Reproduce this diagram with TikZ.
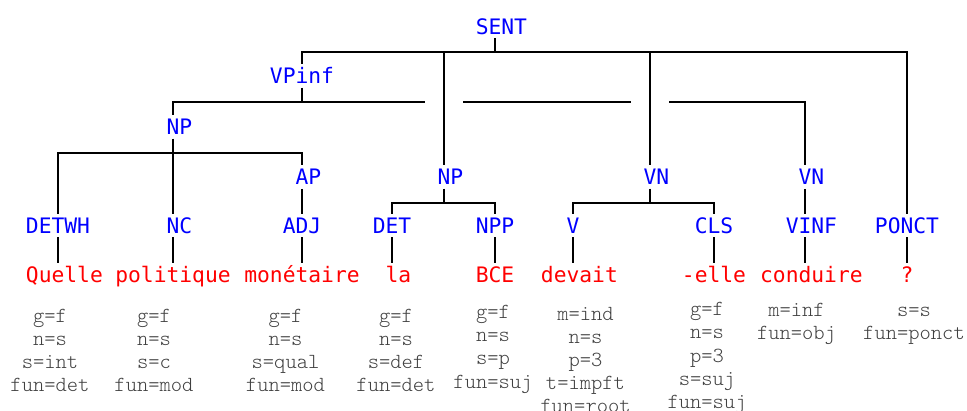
\documentclass[tikz,border=0pt]{standalone}
\usepackage{fontspec}
\newfontfamily\treefont{DejaVu Sans Mono}
\newfontfamily\featfont{Latin Modern Mono Light}

\begin{document}
\begin{tikzpicture}[x=1pt,y=-1pt,
    cat/.style={text=blue, font=\treefont\fontsize{21.3}{24}\selectfont,
      inner sep=4pt, text height=15.5pt, text depth=0pt},
    word/.style={cat, text=red},
    feat/.style={text=black!75, font=\featfont\fontsize{21.5}{23.2}\selectfont,
      text width=130pt, align=center, anchor=base, inner sep=0pt},
    edge/.style={line width=1.8pt},
    bridge/.style={edge, preaction={draw=white, line width=38pt}}]
    \useasboundingbox (0,0) rectangle (967,410);

    % categories
    \node[cat] (sent) at (495,26.3) {\phantom{S}SENT};
    \node[cat] (vpinf) at (302,75.8) {VPinf};
    \node[cat] (np1) at (173,127) {\phantom{N}NP};
    \node[cat] (ap) at (302,177) {\phantom{A}AP};
    \node[cat] (np2) at (444,177) {\phantom{N}NP};
    \node[cat] (vn1) at (650,177) {\phantom{V}VN};
    \node[cat] (vn2) at (805,177) {\phantom{V}VN};
    \node[cat] (detwh) at (58,225.5) {DETWH};
    \node[cat] (nc) at (173,225.5) {\phantom{N}NC};
    \node[cat] (adj) at (302,225.5) {ADJ};
    \node[cat] (det) at (392,225.5) {DET};
    \node[cat] (npp) at (495,225.5) {NPP};
    \node[cat] (v) at (573,225.5) {V};
    \node[cat] (cls) at (714,225.5) {CLS};
    \node[cat] (vinf) at (805,225.5) {\phantom{V}VINF};
    \node[cat] (ponct) at (907,225.5) {PONCT};

    % words
    \node[word] (quelle) at (58,275) {\phantom{Q}Quelle};
    \node[word] (politique) at (173,275) {politique};
    \node[word] (monetaire) at (302,275) {monétaire};
    \node[word] (la) at (392,275) {\phantom{l}la};
    \node[word] (bce) at (495,275) {BCE};
    \node[word] (devait) at (573,275) {\phantom{d}devait};
    \node[word] (elle) at (714,275) {-elle};
    \node[word] (conduire) at (805,275) {\phantom{c}conduire};
    \node[word] (qm) at (907,275) {?};

    % features
    \node[feat] (fquelle) at (50,322) {g=f\\n=s\\s=int\\fun=det};
    \node[feat] (fpolitique) at (154,322) {g=f\\n=s\\s=c\\fun=mod};
    \node[feat] (fmonetaire) at (285.5,322) {g=f\\n=s\\s=qual\\fun=mod};
    \node[feat] (fla) at (396,322) {g=f\\n=s\\s=def\\fun=det};
    \node[feat] (fbce) at (493,318.5) {g=f\\n=s\\s=p\\fun=suj};
    \node[feat] (fdevait) at (585.5,320) {m=ind\\n=s\\p=3\\t=impft\\fun=root};
    \node[feat] (felle) at (707,315.7) {g=f\\n=s\\p=3\\s=suj\\fun=suj};
    \node[feat] (fconduire) at (796.5,316.5) {m=inf\\fun=obj};
    \node[feat] (fqm) at (914,316.5) {s=s\\fun=ponct};

    % branches
    \foreach \c in {vpinf,np2,vn1,ponct}
      \draw[edge] (sent.south) -- ++(0,14) -| (\c.north);
    \foreach \c in {np1,vn2}
      \draw[edge] (vpinf.south) -- ++(0,14) -| (\c.north);
    \foreach \c in {detwh,nc,ap}
      \draw[edge] (np1.south) -- ++(0,14) -| (\c.north);
    \draw[edge] (ap.south) -- (adj.north);
    \foreach \c in {det,npp}
      \draw[edge] (np2.south) -- ++(0,14) -| (\c.north);
    \foreach \c in {v,cls}
      \draw[edge] (vn1.south) -- ++(0,14) -| (\c.north);
    \draw[edge] (vn2.south) -- (vinf.north);
    % crossings
    \draw[bridge] (np2.north |- vpinf.south) -- ++(0,30);
    \draw[bridge] (vn1.north |- vpinf.south) -- ++(0,30);

    % leaves
    \draw[edge] (detwh.south) -- (quelle.north);
    \draw[edge] (nc.south) -- (politique.north);
    \draw[edge] (adj.south) -- (monetaire.north);
    \draw[edge] (det.south) -- (la.north);
    \draw[edge] (npp.south) -- (bce.north);
    \draw[edge] (v.south) -- (devait.north);
    \draw[edge] (cls.south) -- (elle.north);
    \draw[edge] (vinf.south) -- (conduire.north);
    \draw[edge] (ponct.south) -- (qm.north);
\end{tikzpicture}
\end{document}
